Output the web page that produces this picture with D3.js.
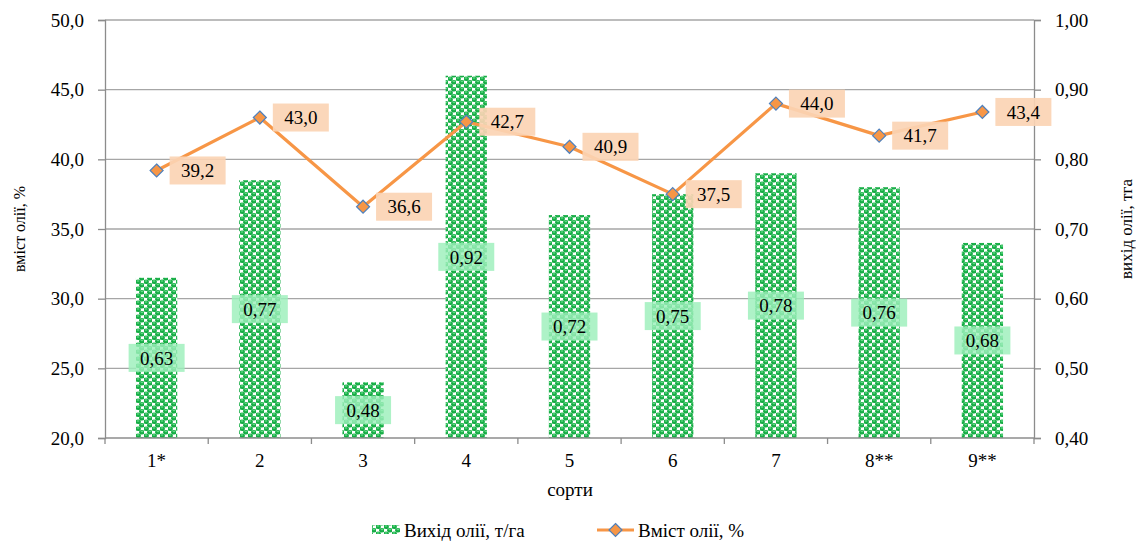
<!DOCTYPE html>
<html>
<head>
<meta charset="utf-8">
<script src="https://cdn.jsdelivr.net/npm/d3@7"></script>
</head>
<body style="margin:0;padding:0;background:#fff">
<svg id="chart" width="1136" height="542" style="display:block" font-family="Times, 'Liberation Serif', serif"></svg>
<script>
// Сорти та показники
const categories = ["1*", "2", "3", "4", "5", "6", "7", "8**", "9**"];
const yieldValues = [0.63, 0.77, 0.48, 0.92, 0.72, 0.75, 0.78, 0.76, 0.68];   // Вихід олії, т/га
const contentValues = [39.2, 43.0, 36.6, 42.7, 40.9, 37.5, 44.0, 41.7, 43.4]; // Вміст олії, %
const leftTicks = [20, 25, 30, 35, 40, 45, 50];
const rightTicks = [0.4, 0.5, 0.6, 0.7, 0.8, 0.9, 1.0];

const serif = "Times, 'Liberation Serif', serif";
const svg = d3.select("#chart");
const m = { left: 105, right: 1034, top: 20, bottom: 438 };

const fmt1 = d => d.toFixed(1).replace(".", ",");
const fmt2 = d => d.toFixed(2).replace(".", ",");

// Шрифт для всіх підписів
function tx(sel, size) {
  return sel.attr("font-family", serif).attr("font-size", size)
    .style("font-family", serif).style("font-size", size + "px");
}

const x = d3.scaleBand().domain(categories).range([m.left, m.right]).paddingInner(0.6).paddingOuter(0.3);
const xOuter = d3.scaleBand().domain(categories).range([m.left, m.right]);
const yL = d3.scaleLinear().domain([20, 50]).range([m.bottom, m.top]);
const yR = d3.scaleLinear().domain([0.4, 1.0]).range([m.bottom, m.top]);

// Візерунок стовпців
const defs = svg.append("defs");
const pat = defs.append("pattern").attr("id", "dots").attr("patternUnits", "userSpaceOnUse")
  .attr("width", 8).attr("height", 7);
pat.append("rect").attr("width", 8).attr("height", 7).attr("fill", "#ffffff");
[[2, 1.75], [6, 5.25], [6, -1.75], [2, 8.75]].forEach(([cx, cy]) => {
  pat.append("ellipse").attr("cx", cx).attr("cy", cy).attr("rx", 2.9).attr("ry", 2.3).attr("fill", "#16ad45");
  pat.append("ellipse").attr("cx", cx).attr("cy", cy - 0.8).attr("rx", 1.4).attr("ry", 0.7).attr("fill", "#5fd983");
});

// Сітка
svg.append("g").selectAll("line").data(leftTicks.slice(1)).join("line")
  .attr("x1", m.left).attr("x2", m.right)
  .attr("y1", d => yL(d)).attr("y2", d => yL(d))
  .attr("stroke", "#a6a6a6").attr("stroke-width", 1.3);

// Стовпці
svg.append("g").selectAll("rect").data(yieldValues).join("rect")
  .attr("x", (d, i) => x(categories[i]))
  .attr("width", x.bandwidth())
  .attr("y", d => yR(d))
  .attr("height", d => yR(0.4) - yR(d))
  .attr("fill", "url(#dots)");

// Осі
const axisColor = "#8c8c8c";
const gL = svg.append("g").attr("transform", `translate(${m.left},0)`)
  .call(d3.axisLeft(yL).tickValues(leftTicks).tickFormat(fmt1).tickSize(7).tickPadding(14));
const gR = svg.append("g").attr("transform", `translate(${m.right},0)`)
  .call(d3.axisRight(yR).tickValues(rightTicks).tickFormat(fmt2).tickSize(7).tickPadding(14));
const gX = svg.append("g").attr("transform", `translate(0,${m.bottom})`)
  .call(d3.axisBottom(xOuter).tickSize(0).tickPadding(16));
[gL, gR, gX].forEach(g => {
  g.attr("font-family", serif).attr("font-size", 19);
  g.select(".domain").attr("stroke", axisColor).attr("stroke-width", 1.3);
  g.selectAll(".tick line").attr("stroke", axisColor).attr("stroke-width", 1.3);
  tx(g.selectAll("text"), 19).attr("fill", "#000");
});
gX.select(".domain").attr("d", `M${m.left},0H${m.right}`);
// Поділки між категоріями
svg.append("g").selectAll("line").data(categories).join("line")
  .attr("x1", d => xOuter(d)).attr("x2", d => xOuter(d))
  .attr("y1", m.bottom).attr("y2", m.bottom + 6)
  .attr("stroke", axisColor).attr("stroke-width", 1.3);
svg.append("line").attr("x1", m.right).attr("x2", m.right).attr("y1", m.bottom).attr("y2", m.bottom + 6)
  .attr("stroke", axisColor).attr("stroke-width", 1.3);

// Підписи стовпців
const barLbl = svg.append("g").selectAll("g").data(yieldValues).join("g")
  .attr("transform", (d, i) => `translate(${x(categories[i]) + x.bandwidth() / 2},${(yR(d) + yR(0.4)) / 2})`);
barLbl.append("rect").attr("x", -28).attr("y", -14).attr("width", 56).attr("height", 28)
  .attr("fill", "#9cefbb").attr("opacity", 0.82);
tx(barLbl.append("text"), 19).attr("text-anchor", "middle").attr("dy", "0.35em").text(fmt2);

// Лінія вмісту олії
const cx = (d, i) => xOuter(categories[i]) + xOuter.bandwidth() / 2;
const line = d3.line().x(cx).y(d => yL(d));
svg.append("path").datum(contentValues).attr("d", line)
  .attr("fill", "none").attr("stroke", "#f79646").attr("stroke-width", 3.2).attr("stroke-linejoin", "round");

// Підписи лінії
const lineLbl = svg.append("g").selectAll("g").data(contentValues).join("g")
  .attr("transform", (d, i) => `translate(${cx(d, i)},${yL(d)})`);
lineLbl.append("rect").attr("x", 13).attr("y", -14).attr("width", 56).attr("height", 28)
  .attr("fill", "#fbd4b4").attr("opacity", 0.92);
tx(lineLbl.append("text"), 19).attr("x", 41).attr("text-anchor", "middle").attr("dy", "0.35em").text(fmt1);

// Маркери
svg.append("g").selectAll("path").data(contentValues).join("path")
  .attr("d", "M0,-6.5L6.5,0L0,6.5L-6.5,0Z")
  .attr("transform", (d, i) => `translate(${cx(d, i)},${yL(d)})`)
  .attr("fill", "#f79646").attr("stroke", "#4f81bd").attr("stroke-width", 1.2);

// Назви осей
tx(svg.append("text"), 16).attr("transform", `translate(25,${(m.top + m.bottom) / 2}) rotate(-90)`)
  .attr("text-anchor", "middle").text("вміст олії, %");
tx(svg.append("text"), 17).attr("transform", `translate(1132,${(m.top + m.bottom) / 2}) rotate(-90)`)
  .attr("text-anchor", "middle").text("вихід олії, тга");
tx(svg.append("text"), 19).attr("x", 570).attr("y", 496).attr("text-anchor", "middle").text("сорти");

// Легенда
const lg = svg.append("g");
lg.append("rect").attr("x", 372).attr("y", 525).attr("width", 28).attr("height", 9).attr("fill", "url(#dots)");
tx(lg.append("text"), 19).attr("x", 404).attr("y", 537).text("Вихід олії, т/га");
lg.append("line").attr("x1", 597).attr("x2", 634).attr("y1", 530).attr("y2", 530)
  .attr("stroke", "#f79646").attr("stroke-width", 3.2);
lg.append("path").attr("d", "M0,-6.5L6.5,0L0,6.5L-6.5,0Z").attr("transform", "translate(615.5,530)")
  .attr("fill", "#f79646").attr("stroke", "#4f81bd").attr("stroke-width", 1.2);
tx(lg.append("text"), 19).attr("x", 638).attr("y", 537).text("Вміст олії, %");
</script>
</body>
</html>
